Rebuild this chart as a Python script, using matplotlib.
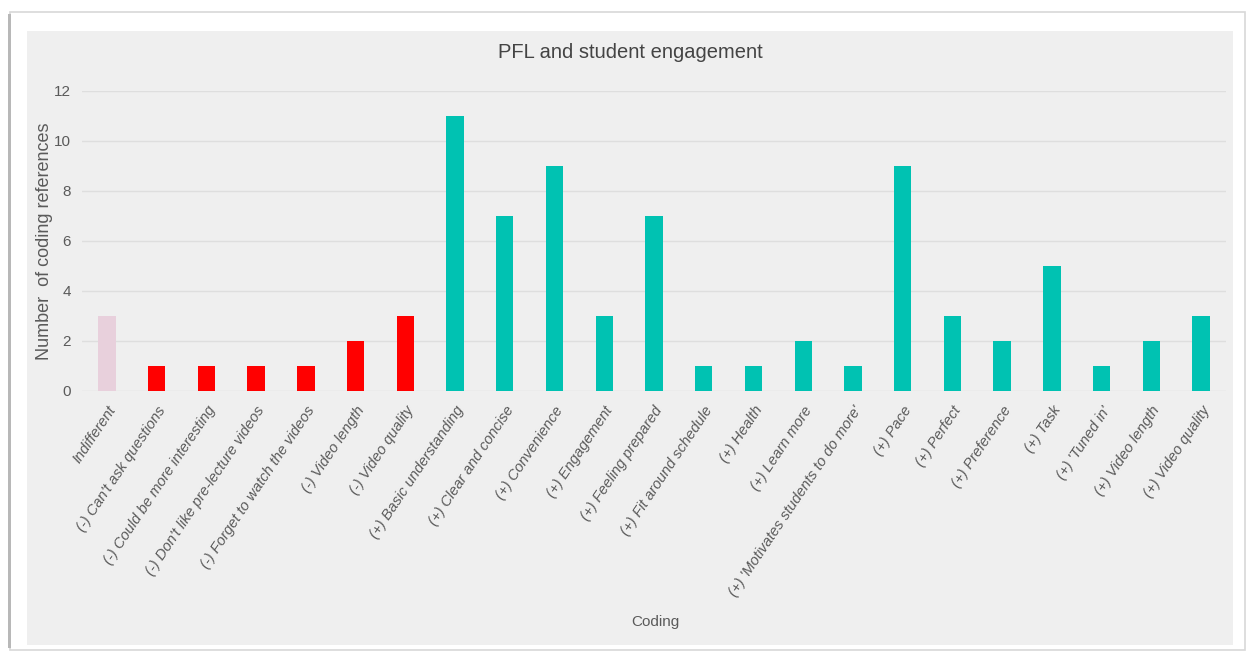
import matplotlib.pyplot as plt
from matplotlib.patches import Rectangle

# data
categories = [
    "Indifferent",
    "(-) Can't ask questions",
    "(-) Could be more interesting",
    "(-) Don't like pre-lecture videos",
    "(-) Forget to watch the videos",
    "(-) Video length",
    "(-) Video quality",
    "(+) Basic understanding",
    "(+) Clear and concise",
    "(+) Convenience",
    "(+) Engagement",
    "(+) Feeling prepared",
    "(+) Fit around schedule",
    "(+) Health",
    "(+) Learn more",
    "(+) 'Motivates students to do more'",
    "(+) Pace",
    "(+) Perfect",
    "(+) Preference",
    "(+) Task",
    "(+) 'Tuned in'",
    "(+) Video length",
    "(+) Video quality",
]
counts = [3, 1, 1, 1, 1, 2, 3, 11, 7, 9, 3, 7, 1, 1, 2, 1, 9, 3, 2, 5, 1, 2, 3]
groups = ["neutral"] + ["neg"] * 6 + ["pos"] * 16
group_colors = {"neutral": "#e8d0dc", "neg": "#ff0000", "pos": "#00c2b2"}
yticks = [0, 2, 4, 6, 8, 10, 12]

plt.rcParams['font.family'] = ['Liberation Sans', 'DejaVu Sans']
txt = '#5a5a5a'
panel = '#efefef'

fig = plt.figure(figsize=(12.48, 6.62), dpi=100)
fig.patch.set_facecolor('white')

# card outline + gray panel
W, H = 1248.0, 662.0
fig.add_artist(Rectangle((10 / W, 1 - 650 / H), 1235 / W, 638 / H, transform=fig.transFigure,
                         facecolor='white', edgecolor='#d8d8d8', lw=1.2, zorder=0))
fig.add_artist(Rectangle((8 / W, 1 - 648 / H), 3 / W, 634 / H, transform=fig.transFigure,
                         facecolor='#b8b8b8', edgecolor='none', zorder=0))
fig.add_artist(Rectangle((27 / W, 1 - 645 / H), 1206 / W, 614 / H, transform=fig.transFigure,
                         facecolor=panel, edgecolor='none', zorder=0))

ax = fig.add_axes([82 / W, 1 - 391 / H, 1144 / W, 300 / H])
ax.set_facecolor(panel)
ax.patch.set_alpha(0)

x = range(len(categories))
ax.bar(x, counts, width=0.35, color=[group_colors[g] for g in groups], zorder=3)

ax.set_xlim(-0.5, len(categories) - 0.5)
ax.set_ylim(0, 12)
ax.set_yticks(yticks)
ax.yaxis.grid(True, color='#dedede', lw=1, zorder=0)
ax.set_axisbelow(True)
for s in ax.spines.values():
    s.set_visible(False)
ax.tick_params(axis='both', length=0, colors=txt, labelsize=11)
ax.tick_params(axis='y', pad=8)
ax.tick_params(axis='x', pad=9)
ax.set_xticks(list(x))
ax.set_xticklabels(categories, rotation=56, ha='right', rotation_mode='anchor',
                   fontstyle='italic', fontsize=10.6, color=txt)

fig.text(630 / W, 1 - 53 / H, 'PFL and student engagement', fontsize=14.5, color='#444444',
         ha='center', va='center')
ax.set_ylabel('Number  of coding references', fontsize=13, color=txt)
ax.yaxis.set_label_coords((45 - 82) / 1144, 0.5)
ax.yaxis.label.set_va('center')
ax.set_xlabel('Coding', fontsize=11, color=txt)
ax.xaxis.set_label_coords((655 - 82) / 1144, -(622 - 391) / 300)
ax.xaxis.label.set_va('center')

fig.savefig('out.png', dpi=100, facecolor='white')
